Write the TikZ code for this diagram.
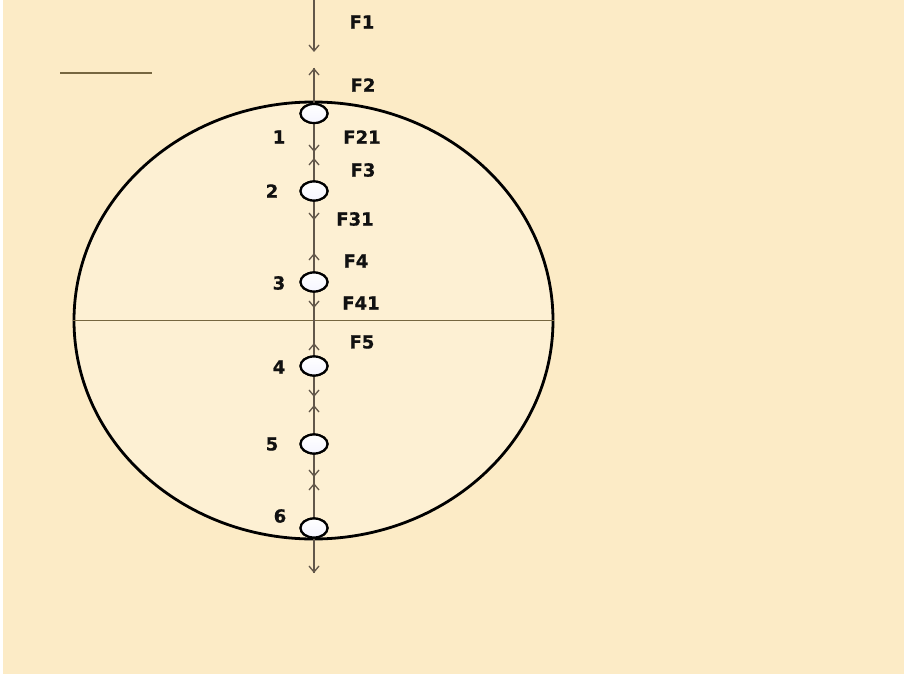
\documentclass[tikz,border=0pt]{standalone}
\usepackage{fontspec}
\setmainfont{DejaVu Sans}[BoldFeatures={FakeBold=0.8}]
\usetikzlibrary{arrows.meta,positioning,shapes.geometric}
\definecolor{padbg}{HTML}{FCEBC6}
\definecolor{padin}{HTML}{FDF0D3}
\definecolor{padaxis}{HTML}{62574A}
\definecolor{padrule}{HTML}{766640}
\definecolor{padink}{HTML}{111111}
\tikzset{
  ball/.style={ellipse, draw=black, line width=2.8pt, fill=padin, inner sep=0pt, minimum width=479pt, minimum height=437pt},
  bead/.style={ellipse, draw=black, line width=2.2pt, top color=white, bottom color=blue!4, inner sep=0pt, minimum width=27pt, minimum height=19pt},
  ax/.style={draw=padaxis, line width=1.3pt},
  arr/.style={ax, -{Straight Barb[length=6pt,width=10pt]}},
  rule/.style={draw=padrule, line width=1.4pt},
  lbl/.style={font=\fontsize{18}{20}\selectfont\bfseries, text=padink, inner sep=0pt},
}
\begin{document}
\begin{tikzpicture}[x=1pt,y=-1pt]
  \useasboundingbox (0,0) rectangle (907,677);
  \fill[white] (0,0) rectangle (907,677);
  \fill[padbg] (3,0) rectangle (904,674);
  \draw[rule, line width=2.4pt] (60,73) -- (152,73);
  \node[ball] (sph) at (313.5,320.5) {};
  \draw[rule] (sph.west) -- (sph.east);
  \coordinate (top) at (314,0);
  \coordinate (a1) at (314,52);
  \coordinate (a2) at (314,68);
  \coordinate (a3) at (314,152);
  \coordinate (a4) at (314,158);
  \coordinate (a5) at (314,220);
  \coordinate (a6) at (314,253);
  \coordinate (a7) at (314,308);
  \coordinate (a8) at (314,343);
  \coordinate (a9) at (314,397);
  \coordinate (a10) at (314,405);
  \coordinate (a11) at (314,477);
  \coordinate (a12) at (314,483);
  \coordinate (bot) at (314,573);
  \draw[arr] (top) -- (a1);
  \draw[ax] (a2) -- (bot);
  \foreach \i/\y in {1/113.5,2/191,3/282,4/366,5/444,6/528}
    \node[bead] (e\i) at (314,\y) {};
  \draw[arr] (e1) -- (a2); \draw[arr] (e1) -- (a3);
  \draw[arr] (e2) -- (a4); \draw[arr] (e2) -- (a5);
  \draw[arr] (e3) -- (a6); \draw[arr] (e3) -- (a7);
  \draw[arr] (e4) -- (a8); \draw[arr] (e4) -- (a9);
  \draw[arr] (e5) -- (a10); \draw[arr] (e5) -- (a11);
  \draw[arr] (e6) -- (a12); \draw[arr] (e6) -- (bot);
  \foreach \i in {1,...,6} \node[bead] at (e\i) {};
  \node[lbl] (f1) at (362,22) {F1};
  \node[lbl] (f2) at (363,85) {F2};
  \node[lbl] (f21) at (362,137) {F21};
  \node[lbl] (f3) at (363,170) {F3};
  \node[lbl] (f31) at (355,219) {F31};
  \node[lbl] (f4) at (356,261) {F4};
  \node[lbl] (f41) at (361,303) {F41};
  \node[lbl] (f5) at (362,342) {F5};
  \node[lbl] (n1) at (279,137) {1};
  \node[lbl] (n2) at (272,191) {2};
  \node[lbl] (n3) at (279,283) {3};
  \node[lbl] (n4) at (279,367) {4};
  \node[lbl] (n5) at (272,444) {5};
  \node[lbl] (n6) at (280,516) {6};
\end{tikzpicture}
\end{document}
